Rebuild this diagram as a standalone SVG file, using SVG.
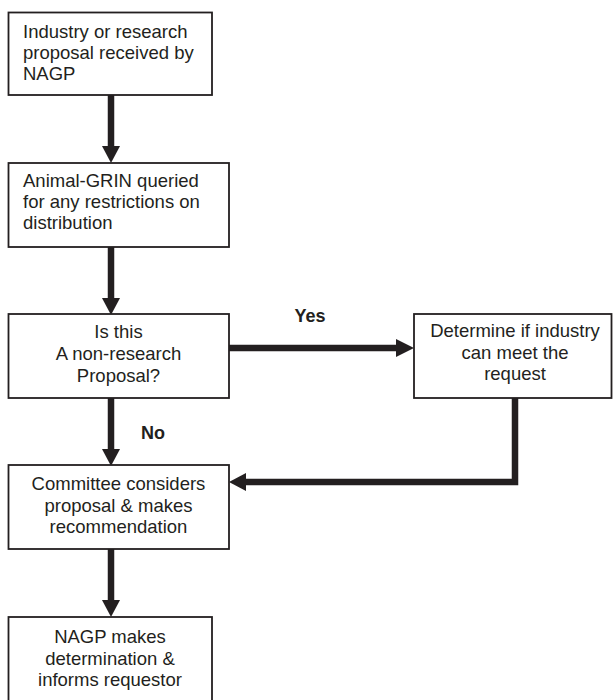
<svg xmlns="http://www.w3.org/2000/svg" width="613" height="700" viewBox="0 0 613 700">
<style>
.box{fill:#fff;stroke:#231f20;stroke-width:1.8}
.t{font-family:"Liberation Sans",Arial,sans-serif;font-size:18.5px;fill:#231f20}
.c{text-anchor:middle}
.lbl{font-family:"Liberation Sans",Arial,sans-serif;font-size:18px;font-weight:bold;fill:#231f20;text-anchor:middle}
.ln{fill:none;stroke:#231f20;stroke-width:6.5}
.hd{fill:#231f20}
</style>
<rect width="613" height="700" fill="#fff"/>
<g id="connectors">
<line class="ln" x1="111" y1="95" x2="111" y2="148"/>
<polygon class="hd" points="102,146 120,146 111,163"/>
<line class="ln" x1="111" y1="247" x2="111" y2="300"/>
<polygon class="hd" points="102,298 120,298 111,315"/>
<line class="ln" x1="229" y1="348" x2="398" y2="348"/>
<polygon class="hd" points="396,339 396,357 414,348"/>
<line class="ln" x1="111" y1="398" x2="111" y2="451"/>
<polygon class="hd" points="102,449 120,449 111,466"/>
<polyline class="ln" points="515,398 515,482 244,482"/>
<polygon class="hd" points="246,473 246,491 229,482"/>
<line class="ln" x1="111" y1="549" x2="111" y2="602"/>
<polygon class="hd" points="102,600 120,600 111,617"/>
<text class="lbl" x="310" y="322">Yes</text>
<text class="lbl" x="153" y="439">No</text>
</g>
<g id="n1">
<rect class="box" x="8.5" y="12.5" width="203.5" height="82.5"/>
<text class="t" x="23" y="38">Industry or research</text>
<text class="t" x="23" y="59">proposal received by</text>
<text class="t" x="23" y="80">NAGP</text>
</g>
<g id="n2">
<rect class="box" x="8.5" y="163" width="220.5" height="84"/>
<text class="t" x="23" y="187">Animal-GRIN queried</text>
<text class="t" x="23" y="208">for any restrictions on</text>
<text class="t" x="23" y="229">distribution</text>
</g>
<g id="n3">
<rect class="box" x="8.5" y="314" width="220.5" height="84"/>
<text class="t c" x="118.5" y="338">Is this</text>
<text class="t c" x="118.5" y="360">A non-research</text>
<text class="t c" x="118.5" y="382">Proposal?</text>
</g>
<g id="n4">
<rect class="box" x="414" y="314" width="197.5" height="84"/>
<text class="t c" x="515" y="337">Determine if industry</text>
<text class="t c" x="515" y="359">can meet the</text>
<text class="t c" x="515" y="380">request</text>
</g>
<g id="n5">
<rect class="box" x="8.5" y="465" width="220.5" height="84"/>
<text class="t c" x="118.5" y="490">Committee considers</text>
<text class="t c" x="118.5" y="512">proposal &amp; makes</text>
<text class="t c" x="118.5" y="533">recommendation</text>
</g>
<g id="n6">
<rect class="box" x="8.5" y="617" width="203.5" height="90"/>
<text class="t c" x="110" y="643">NAGP makes</text>
<text class="t c" x="110" y="665">determination &amp;</text>
<text class="t c" x="110" y="686">informs requestor</text>
</g>
</svg>
